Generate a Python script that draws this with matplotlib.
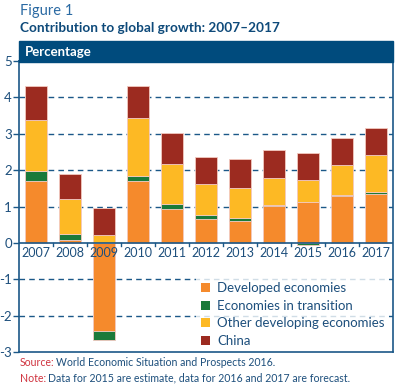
import matplotlib
matplotlib.use("Agg")
import matplotlib.pyplot as plt
import numpy as np

plt.rcParams['font.family'] = ['Lato', 'DejaVu Sans']

years = ['2007', '2008', '2009', '2010', '2011', '2012',
         '2013', '2014', '2015', '2016', '2017']
developed = [1.70, 0.07, -2.43, 1.70, 0.93, 0.66, 0.61, 1.02, 1.12, 1.30, 1.35]
transition = [0.28, 0.18, -0.23, 0.15, 0.15, 0.11, 0.07, 0.03, -0.07, 0.02, 0.05]
other_dev = [1.39, 0.96, 0.22, 1.58, 1.08, 0.85, 0.84, 0.72, 0.60, 0.81, 1.02]
china = [0.93, 0.68, 0.73, 0.89, 0.86, 0.73, 0.78, 0.78, 0.76, 0.74, 0.74]

series = [
    ('Developed economies', developed, '#f58a2c'),
    ('Economies in transition', transition, '#1a7a3a'),
    ('Other developing economies', other_dev, '#fdb924'),
    ('China', china, '#9c2b20'),
]

blue = '#1b5888'
text_blue = '#1d4f7c'
red = '#d0333f'

fig = plt.figure(figsize=(4.0, 3.88), dpi=100)
ax = fig.add_axes([19 / 400, 1 - 352 / 388, 374 / 400, 291 / 388])

x = np.arange(len(years))
pos_base = np.zeros(len(years))
neg_base = np.zeros(len(years))
for name, vals, col in series:
    vals = np.array(vals)
    base = np.where(vals >= 0, pos_base, neg_base)
    ax.bar(x, vals, 0.63, bottom=base, color=col, label=name,
           edgecolor='#f3c9c0', linewidth=0.6, zorder=3)
    pos_base += np.where(vals >= 0, vals, 0)
    neg_base += np.where(vals < 0, vals, 0)

ax.set_xlim(-0.5, len(years) - 0.5)
ax.set_ylim(-3, 5)
ax.set_yticks(range(-3, 6))
ax.set_yticklabels([str(v) for v in range(-3, 6)])
for v in [-2, -1, 1, 2, 3, 4]:
    ax.axhline(v, color=blue, linestyle=(0, (4, 3)), linewidth=1.0, zorder=1)
ax.axhline(0, color=blue, linewidth=1.2, zorder=4)

ax.set_xticks([])
for i, yr in enumerate(years):
    ax.text(i, -0.1, yr, ha='center', va='top', fontsize=9,
            color=text_blue, zorder=5)
# ticks between categories, below the zero line
for b in np.arange(0.5, len(years) - 0.5, 1):
    ax.plot([b, b], [0, -0.08], color=blue, linewidth=1.0, zorder=4)

for s in ax.spines.values():
    s.set_color(blue)
    s.set_linewidth(1.2)
ax.tick_params(axis='y', colors=blue, labelcolor=text_blue, length=4,
               width=1.0, labelsize=9.5, pad=1)

leg = ax.legend(loc='lower right', bbox_to_anchor=(1.0, -0.012), frameon=True,
                fontsize=9.5, handlelength=0.7, handleheight=0.7,
                handletextpad=0.5, labelspacing=0.42, borderaxespad=0.3,
                borderpad=0.35, fancybox=False)
leg.get_frame().set_facecolor('white')
leg.get_frame().set_edgecolor('none')
leg.set_zorder(2)
for t in leg.get_texts():
    t.set_color(text_blue)
for h in leg.legend_handles:
    h.set_edgecolor('none')

# header bar
fig.patches.append(plt.Rectangle((19 / 400, 1 - 62 / 388), 374 / 400, 21 / 388,
                                 transform=fig.transFigure, color='#004b7d',
                                 zorder=0))
fig.text(25 / 400, 1 - 51.5 / 388, 'Percentage', color='white',
         fontsize=9.5, fontweight='bold', va='center', ha='left')

fig.text(20 / 400, 1 - 11 / 388, 'Figure 1', color='#2b6aa3',
         fontsize=10.5, va='center', ha='left')
fig.text(20 / 400, 1 - 28 / 388, 'Contribution to global growth: 2007\u20132017',
         color='#0e4a7a', fontsize=9.8, fontweight='bold', va='center', ha='left')

# source / note lines, label in red followed by text
renderer = fig.canvas.get_renderer()
for ypix, label, body in [
        (363, 'Source:', 'World Economic Situation and Prospects 2016.'),
        (378, 'Note:', 'Data for 2015 are estimate, data for 2016 and 2017 are forecast.')]:
    t = fig.text(20 / 400, 1 - ypix / 388, label, color=red, fontsize=7.6,
                 va='center', ha='left')
    bb = t.get_window_extent(renderer)
    fig.text((bb.x1 + 1.5) / 400, 1 - ypix / 388, body, color=text_blue,
             fontsize=7.6, va='center', ha='left')

fig.savefig('out.png', dpi=100)
